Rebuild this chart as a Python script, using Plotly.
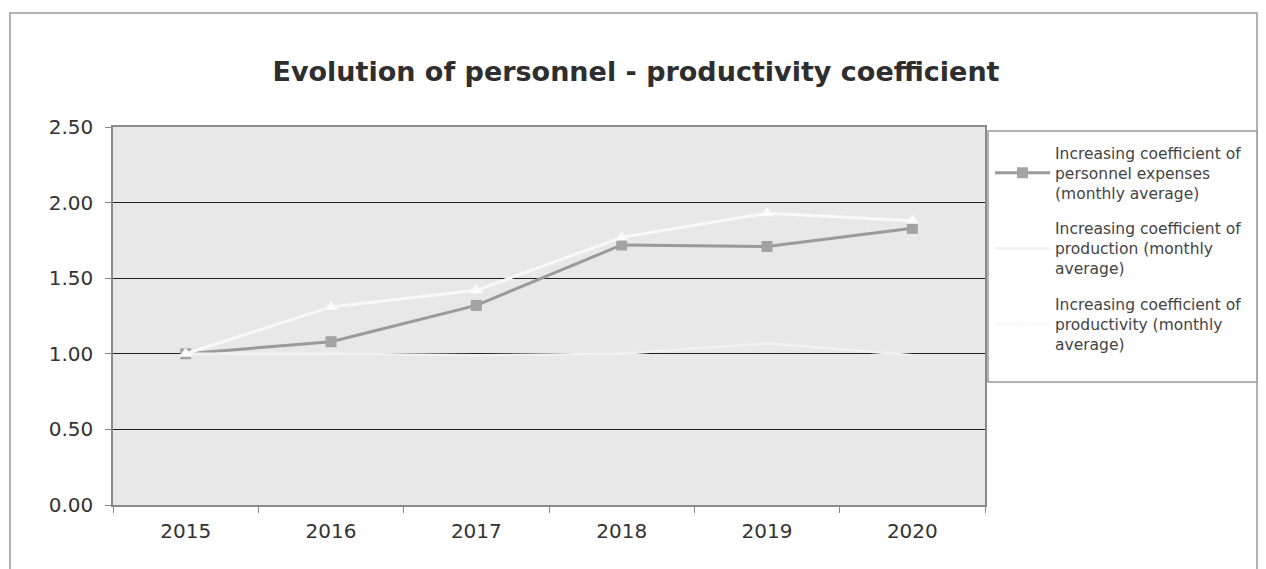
import plotly.graph_objects as go

years = ["2015", "2016", "2017", "2018", "2019", "2020"]
personnel = [1.00, 1.08, 1.32, 1.72, 1.71, 1.83]
production = [1.00, 1.00, 0.99, 1.00, 1.07, 0.99]
productivity = [1.00, 1.31, 1.42, 1.77, 1.93, 1.88]
names = [
    "Increasing coefficient of<br>personnel expenses<br>(monthly average)",
    "Increasing coefficient of<br>production (monthly<br>average)",
    "Increasing coefficient of<br>productivity (monthly<br>average)",
]
y_ticks = [0, 0.5, 1.0, 1.5, 2.0, 2.5]

fig = go.Figure()
fig.add_trace(go.Scatter(x=years, y=personnel, name=names[0], mode="lines+markers",
                         legendgroup="g1",
                         line=dict(color="#9a9a9a", width=3),
                         marker=dict(symbol="square", size=11, color="#a3a3a3")))
fig.add_trace(go.Scatter(x=years, y=production, name=names[1], mode="lines",
                         legendgroup="g2",
                         line=dict(color="#f1f1f1", width=2.5)))
fig.add_trace(go.Scatter(x=years, y=productivity, name=names[2], mode="lines+markers",
                         legendgroup="g3",
                         line=dict(color="#f9f9f9", width=3),
                         marker=dict(symbol="triangle-up", size=12, color="#fbfbfb")))

L, R, T, B = 113, 985, 127, 505
W, H = 1266, 569
pw, ph = R - L, B - T

def px(x):
    return (x - L) / pw

def py(y):
    return (B - y) / ph

# outer chart border
fig.add_shape(type="rect", xref="paper", yref="paper",
              x0=px(10), x1=px(1257), y0=py(600), y1=py(13),
              line=dict(color="#9a9a9a", width=1.5), layer="below")
# legend box
fig.add_shape(type="rect", xref="paper", yref="paper",
              x0=px(988), x1=px(1257), y0=py(382), y1=py(131),
              line=dict(color="#9a9a9a", width=1.5), fillcolor="white", layer="below")

fig.update_layout(
    width=W, height=H,
    margin=dict(l=L, r=W - R, t=T, b=H - B),
    paper_bgcolor="white", plot_bgcolor="#e8e8e8",
    font=dict(family="DejaVu Sans, sans-serif", color="#333333"),
    title=dict(text="<b>Evolution of personnel - productivity coefficient</b>",
               x=636 / W, xref="container", xanchor="center",
               y=1 - 72 / H, yref="container", yanchor="middle",
               font=dict(size=27, color="#2e2e2e", family="DejaVu Sans, sans-serif")),
    legend=dict(x=px(990), y=py(136), xanchor="left", yanchor="top",
                bgcolor="rgba(0,0,0,0)", borderwidth=0,
                font=dict(size=15.5, color="#444444"), itemwidth=55,
                tracegroupgap=12),
    showlegend=True,
)
fig.update_xaxes(type="category", range=[-0.5, 5.5], tickson="boundaries",
                 ticks="outside", ticklen=6, tickcolor="#888888",
                 showline=True, linecolor="#8a8a8a", linewidth=1.5, mirror=True,
                 showgrid=False, tickfont=dict(size=20, color="#333333"),
                 ticklabelstandoff=7)
fig.update_yaxes(range=[0, 2.5], tickvals=y_ticks, tickformat=".2f",
                 ticks="outside", ticklen=6, tickcolor="#888888",
                 showline=True, linecolor="#8a8a8a", linewidth=1.5, mirror=True,
                 showgrid=True, gridcolor="#222222", gridwidth=1, zeroline=False,
                 tickfont=dict(size=20, color="#333333"), ticklabelstandoff=8)

fig.write_html("out.html")
